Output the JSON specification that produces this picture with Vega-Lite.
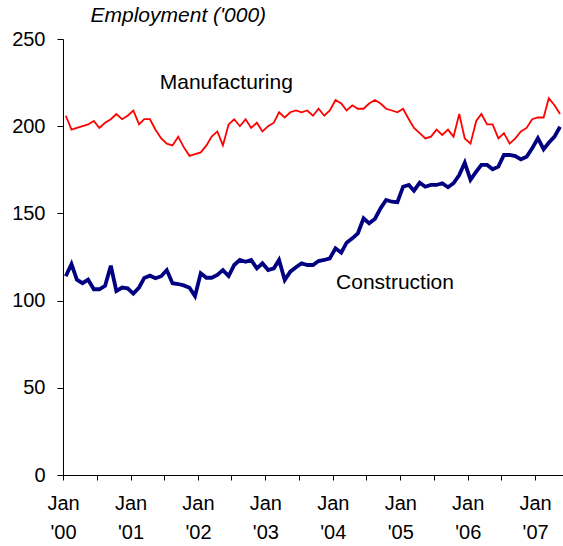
{
  "$schema": "https://vega.github.io/schema/vega-lite/v6.json",
  "width": 500,
  "height": 436,
  "autosize": {"type": "none"},
  "padding": {"left": 63, "top": 39, "right": 0, "bottom": 71},
  "background": "white",
  "config": {
    "view": {"stroke": null},
    "axis": {"domainColor": "black", "tickColor": "black", "labelColor": "black", "labelFont": "Liberation Sans", "labelFontSize": 20, "grid": false, "domainWidth": 1, "tickWidth": 1}
  },
  "datasets": {
    "series": [
      {"d":"2000/01/16","m":206,"c":114},{"d":"2000/02/16","m":198,"c":121},{"d":"2000/03/16","m":199,"c":112},{"d":"2000/04/16","m":200,"c":110},{"d":"2000/05/16","m":201,"c":112},{"d":"2000/06/16","m":203,"c":106.5},{"d":"2000/07/16","m":199,"c":106.5},{"d":"2000/08/16","m":202,"c":108.5},{"d":"2000/09/16","m":204,"c":120},{"d":"2000/10/16","m":207,"c":105.5},{"d":"2000/11/16","m":204,"c":107.5},{"d":"2000/12/16","m":206,"c":107},
      {"d":"2001/01/16","m":209,"c":104},{"d":"2001/02/16","m":201,"c":107.5},{"d":"2001/03/16","m":204,"c":113},{"d":"2001/04/16","m":204,"c":114.3},{"d":"2001/05/16","m":198,"c":112.8},{"d":"2001/06/16","m":193,"c":114},{"d":"2001/07/16","m":190,"c":117.5},{"d":"2001/08/16","m":189,"c":110},{"d":"2001/09/16","m":194,"c":109.5},{"d":"2001/10/16","m":188,"c":108.7},{"d":"2001/11/16","m":183,"c":107.4},{"d":"2001/12/16","m":184,"c":102.6},
      {"d":"2002/01/16","m":185,"c":115.7},{"d":"2002/02/16","m":189,"c":113.1},{"d":"2002/03/16","m":194,"c":113.1},{"d":"2002/04/16","m":197,"c":114.7},{"d":"2002/05/16","m":189,"c":117.5},{"d":"2002/06/16","m":201,"c":114.1},{"d":"2002/07/16","m":204,"c":120.4},{"d":"2002/08/16","m":200,"c":123.3},{"d":"2002/09/16","m":204,"c":122.3},{"d":"2002/10/16","m":199,"c":123.3},{"d":"2002/11/16","m":202,"c":118.5},{"d":"2002/12/16","m":197,"c":121.4},
      {"d":"2003/01/16","m":200,"c":117.5},{"d":"2003/02/16","m":202,"c":118.5},{"d":"2003/03/16","m":208,"c":123.3},{"d":"2003/04/16","m":205,"c":111.8},{"d":"2003/05/16","m":208,"c":116.6},{"d":"2003/06/16","m":209,"c":119.1},{"d":"2003/07/16","m":208,"c":121.4},{"d":"2003/08/16","m":209,"c":120.4},{"d":"2003/09/16","m":206,"c":120.4},{"d":"2003/10/16","m":210,"c":122.7},{"d":"2003/11/16","m":206,"c":123.3},{"d":"2003/12/16","m":209,"c":124.2},
      {"d":"2004/01/16","m":215,"c":130},{"d":"2004/02/16","m":213,"c":127.5},{"d":"2004/03/16","m":209,"c":133.2},{"d":"2004/04/16","m":212,"c":135.7},{"d":"2004/05/16","m":210,"c":138.6},{"d":"2004/06/16","m":210,"c":147.2},{"d":"2004/07/16","m":213,"c":144.3},{"d":"2004/08/16","m":215,"c":146.8},{"d":"2004/09/16","m":213,"c":152.9},{"d":"2004/10/16","m":210,"c":157.7},{"d":"2004/11/16","m":209,"c":156.7},{"d":"2004/12/16","m":208,"c":156.4},
      {"d":"2005/01/16","m":210,"c":165.3},{"d":"2005/02/16","m":204,"c":166.3},{"d":"2005/03/16","m":199,"c":163},{"d":"2005/04/16","m":196,"c":167.6},{"d":"2005/05/16","m":193,"c":165.3},{"d":"2005/06/16","m":194,"c":166.3},{"d":"2005/07/16","m":198,"c":166.3},{"d":"2005/08/16","m":195,"c":167.3},{"d":"2005/09/16","m":198,"c":165},{"d":"2005/10/16","m":194,"c":167.3},{"d":"2005/11/16","m":207,"c":172},{"d":"2005/12/16","m":193,"c":179.1},
      {"d":"2006/01/16","m":190,"c":169.2},{"d":"2006/02/16","m":203,"c":173.9},{"d":"2006/03/16","m":207,"c":177.8},{"d":"2006/04/16","m":201,"c":177.8},{"d":"2006/05/16","m":201,"c":175.3},{"d":"2006/06/16","m":193,"c":176.8},{"d":"2006/07/16","m":196,"c":183.5},{"d":"2006/08/16","m":190,"c":183.5},{"d":"2006/09/16","m":193,"c":182.9},{"d":"2006/10/16","m":197,"c":181},{"d":"2006/11/16","m":199,"c":182.5},{"d":"2006/12/16","m":204,"c":187.3},
      {"d":"2007/01/16","m":205,"c":193.1},{"d":"2007/02/16","m":205,"c":186.8},{"d":"2007/03/16","m":216,"c":190.5},{"d":"2007/04/16","m":212,"c":194},{"d":"2007/05/16","m":207,"c":199.7}
    ],
    "labels": [
      {"d":"2001/06/08","v":221.3,"label":"Manufacturing"},
      {"d":"2004/01/19","v":106.6,"label":"Construction"}
    ]
  },
  "encoding": {
    "x": {
      "field": "d", "type": "temporal",
      "scale": {"domain": [{"year": 2000, "month": 1, "date": 1}, {"year": 2007, "month": 6, "date": 1}]},
      "axis": {
        "title": null,
        "tickCount": {"interval": "month", "step": 6},
        "labelExpr": "month(datum.value) == 0 ? ['Jan', timeFormat(datum.value, \"'%y\")] : ''",
        "labelAlign": "center",
        "labelBaseline": "top",
        "labelPadding": 13,
        "labelLineHeight": 29,
        "labelDx": 3,
        "labelOverlap": false,
        "labelFlush": false,
        "tickSize": 5
      }
    }
  },
  "layer": [
    {
      "data": {"name": "series"},
      "mark": {"type": "line", "color": "#FF0000", "strokeWidth": 1.8},
      "encoding": {
        "y": {
          "field": "m", "type": "quantitative",
          "scale": {"domain": [0, 250], "nice": false},
          "axis": {
            "values": [0, 50, 100, 150, 200, 250],
            "tickSize": 6,
            "labelPadding": 12,
            "title": "Employment ('000)",
            "titleAngle": 0,
            "titleAlign": "left",
            "titleBaseline": "alphabetic",
            "titleX": 27,
            "titleY": -18,
            "titleFont": "Liberation Sans",
            "titleFontSize": 21,
            "titleFontWeight": "normal",
            "titleFontStyle": "italic",
            "titleColor": "black"
          }
        }
      }
    },
    {
      "data": {"name": "series"},
      "mark": {"type": "line", "color": "#000080", "strokeWidth": 3.8},
      "encoding": {
        "y": {"field": "c", "type": "quantitative"}
      }
    },
    {
      "data": {"name": "labels"},
      "mark": {"type": "text", "align": "left", "baseline": "alphabetic", "font": "Liberation Sans", "fontSize": 21, "color": "black"},
      "encoding": {
        "y": {"field": "v", "type": "quantitative"},
        "text": {"field": "label"}
      }
    }
  ]
}
